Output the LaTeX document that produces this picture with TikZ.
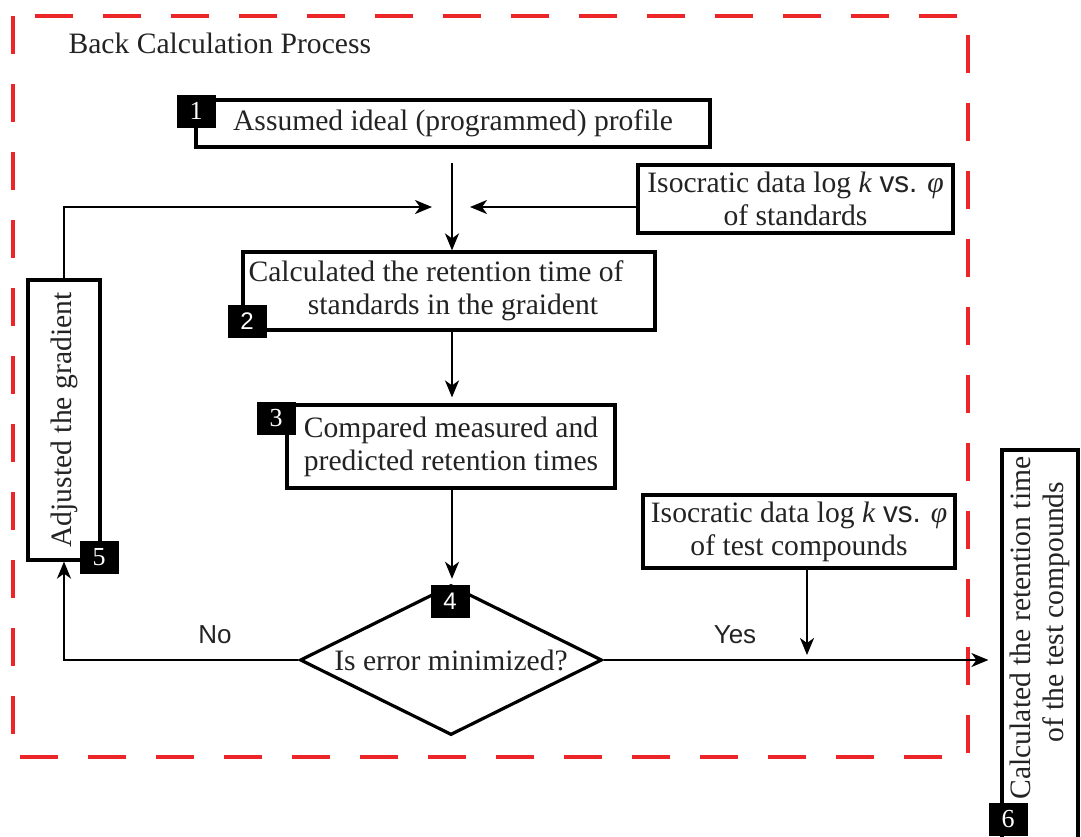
\documentclass[tikz,border=0pt]{standalone}
\usepackage{fontspec}
\setmainfont{Liberation Serif}
\newfontfamily\sansfont{Liberation Sans}
\usetikzlibrary{shapes.geometric,arrows.meta,calc}
\definecolor{framered}{RGB}{236,38,40}
\definecolor{ink}{RGB}{35,35,35}
\begin{document}
\begin{tikzpicture}[x=1pt,y=-1pt,
  every node/.style={text=ink},
  txt/.style={font=\fontsize{29.6}{33}\selectfont},
  stepbox/.style={txt, draw=black, line width=3.2pt, inner sep=0pt, align=center},
  tag/.style={fill=black, draw=black, text=white, minimum width=38pt,
    minimum height=32pt, inner sep=0pt, font=\fontsize{26}{26}\selectfont},
  arr/.style={line width=2pt, draw=black, -{Stealth[length=17pt,width=14pt,inset=5pt]}},
  answer/.style={font=\sansfont\fontsize{26}{26}\selectfont}
]
\useasboundingbox (0,0) rectangle (1081,836);
\fill[white] (0,0) rectangle (1081,836);

% dashed frame of the iterative loop
\draw[framered, line width=3.5pt, dash pattern=on 38pt off 30pt]
  (13,16) rectangle (968,757);
\node[txt, anchor=base west] (title) at (65,53) {Back Calculation Process};

% process steps
\node[stepbox, minimum width=514pt, minimum height=47pt] (b1) at (453,123.5)
  {Assumed ideal (programmed) profile};
\node[stepbox, minimum width=315pt, minimum height=68pt] (std) at (795.5,199)
  {Isocratic data log \textit{k} {\sansfont vs.} \textit{φ}\\of standards};
\node[stepbox, minimum width=412pt, minimum height=78pt] (b2) at (449,291)
  {Calculated the retention time of\hspace*{26pt}\\\hspace*{8pt}standards in the graident};
\node[stepbox, minimum width=328pt, minimum height=83pt] (b3) at (451,446.5)
  {Compared measured and\\predicted retention times};
\node[stepbox, rotate=90, minimum width=280pt, minimum height=72pt] (b5) at (64,420)
  {Adjusted the gradient};
\node[txt, draw=black, line width=3.2pt, inner sep=0pt, shape=diamond,
  minimum width=302pt, minimum height=150pt] (d4) at (451,660)
  {\makebox[0pt]{\raisebox{-3pt}{Is error minimized?}}};
\node[stepbox, minimum width=312pt, minimum height=73pt] (test) at (799,531.5)
  {Isocratic data log \textit{k} {\sansfont vs.} \textit{φ}\\of test compounds};
\begin{scope}
  \clip (0,0) rectangle (1081,836);
  \node[stepbox, rotate=90, minimum width=400pt, minimum height=76pt] (b6) at (1040,650)
    {\hspace*{44pt}Calculated the retention time\\\hspace*{76pt}of the test compounds};
\end{scope}

% step numbers
\node[tag] (t1) at (196,111) {1};
\node[tag, font=\sansfont\fontsize{24}{24}\selectfont] (t2) at (247,321) {2};
\node[tag] (t3) at (276,418) {3};
\node[tag, font=\sansfont\fontsize{24}{24}\selectfont] (t4) at (450,601) {4};
\node[tag] (t5) at (99,557) {5};
\node[tag] (t6) at (1008,819) {6};

% connectors
\coordinate (c1) at (452,163);
\coordinate (stdtip) at (470,207);
\coordinate (fbtip) at (432,207);
\coordinate (testtip) at (807,655);

\draw[arr] (c1) -- (b2.north -| c1);
\draw[arr] (std.west |- stdtip) -- (stdtip);
\draw[arr] (b5.east) |- (fbtip);
\draw[arr, shorten >=6pt] (b2.south -| c1) -- (b3.north -| c1);
\draw[arr, shorten >=6pt] (b3.south -| c1) -- (t4.north -| c1);
\draw[arr] (d4.west) -| (b5.west);
\draw[arr, shorten >=12pt] (d4.east) -- (d4.east -| b6.north);
\draw[arr] (test.south -| testtip) -- (testtip);

\node[answer] (no) at (215,635) {No};
\node[answer] (yes) at (735,635) {Yes};
\end{tikzpicture}
\end{document}
